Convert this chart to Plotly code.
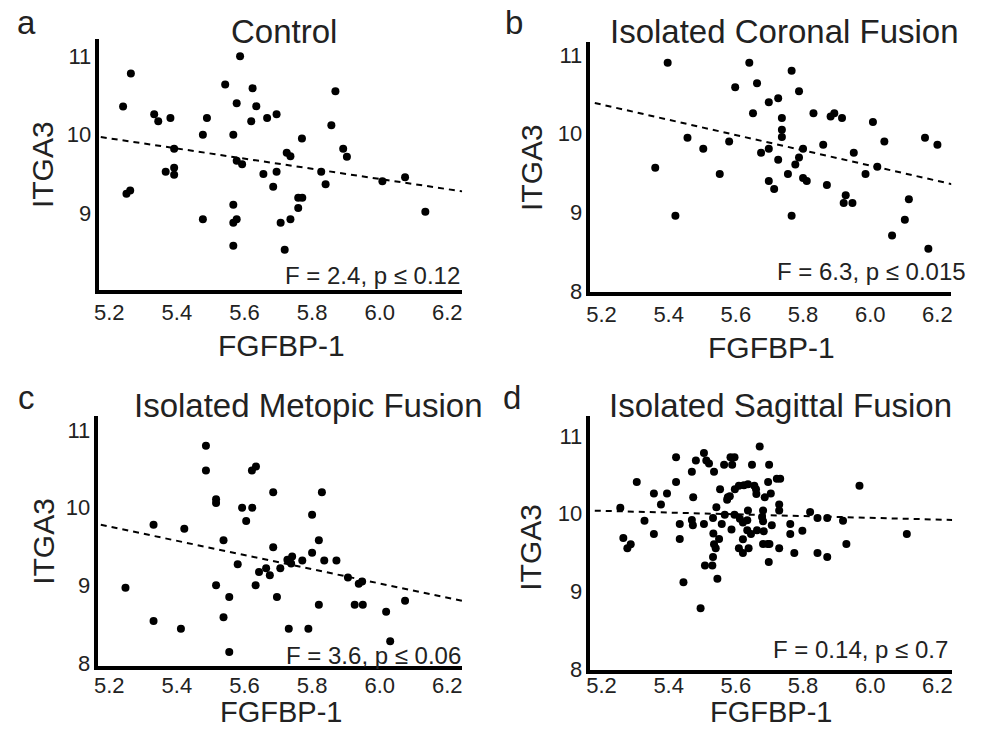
import plotly.graph_objects as go

W, H = 984, 740

# ---------------- data ----------------
control_x = [5.587, 5.264, 5.241, 5.543, 5.624, 5.577, 5.635, 5.869, 5.333, 5.345,
             5.381, 5.489, 5.620, 5.667, 5.695, 5.857, 5.477, 5.567, 5.770, 5.392,
             5.892, 5.725, 5.736, 5.903, 5.577, 5.593, 5.367, 5.392, 5.392, 5.656,
             5.695, 5.827, 5.685, 5.840, 6.008, 6.075, 5.251, 5.262, 5.759, 5.771,
             5.759, 5.477, 5.567, 5.577, 5.567, 5.707, 5.736, 6.135, 5.567, 5.719]
control_y = [10.996, 10.775, 10.358, 10.638, 10.590, 10.400, 10.360, 10.550, 10.260, 10.170,
             10.210, 10.210, 10.170, 10.210, 10.260, 10.120, 10.000, 10.000, 9.950, 9.820,
             9.820, 9.770, 9.725, 9.720, 9.670, 9.625, 9.530, 9.580, 9.490, 9.500,
             9.530, 9.530, 9.340, 9.370, 9.410, 9.460, 9.250, 9.290, 9.200, 9.200,
             9.070, 8.925, 9.110, 8.925, 8.880, 8.880, 8.925, 9.020, 8.590, 8.540]
control_fit_x = [5.175, 6.244]
control_fit_y = [9.97, 9.28]

coronal_x = [5.397, 5.640, 5.766, 5.598, 5.663, 5.788, 5.698, 5.726, 5.651, 5.737,
             5.831, 5.882, 5.893, 5.916, 6.008, 5.737, 5.737, 5.456, 5.580, 5.503,
             5.675, 5.698, 5.726, 5.800, 5.860, 6.042, 6.163, 6.200, 5.951, 5.788,
             5.777, 5.755, 5.800, 5.811, 6.021, 5.986, 5.360, 5.552, 5.698, 5.714,
             5.871, 5.927, 5.921, 5.947, 6.115, 5.420, 5.766, 6.103, 6.065, 6.173]
coronal_y = [10.90, 10.90, 10.80, 10.59, 10.64, 10.54, 10.40, 10.45, 10.26, 10.20,
             10.26, 10.22, 10.26, 10.20, 10.15, 10.05, 9.96, 9.95, 9.90, 9.81,
             9.76, 9.81, 9.67, 9.81, 9.86, 9.90, 9.95, 9.86, 9.76, 9.70,
             9.61, 9.49, 9.44, 9.40, 9.58, 9.49, 9.57, 9.49, 9.40, 9.30,
             9.35, 9.22, 9.12, 9.12, 9.17, 8.96, 8.96, 8.91, 8.71, 8.54]
coronal_fit_x = [5.180, 6.254]
coronal_fit_y = [10.39, 9.35]

metopic_x = [5.486, 5.486, 5.622, 5.634, 5.516, 5.516, 5.685, 5.829, 5.593, 5.623,
             5.605, 5.800, 5.331, 5.422, 5.538, 5.820, 5.685, 5.800, 5.727, 5.741,
             5.738, 5.771, 5.836, 5.872, 5.580, 5.664, 5.643, 5.675, 5.706, 5.906,
             5.938, 5.948, 5.248, 5.516, 5.633, 5.555, 5.696, 5.820, 5.926, 5.950,
             6.075, 6.019, 5.331, 5.538, 5.412, 5.731, 5.789, 6.031, 5.555]
metopic_y = [10.80, 10.48, 10.48, 10.53, 10.11, 10.06, 10.20, 10.20, 10.00, 10.00,
             9.83, 9.91, 9.78, 9.73, 9.58, 9.58, 9.49, 9.42, 9.33, 9.37,
             9.28, 9.32, 9.32, 9.32, 9.27, 9.22, 9.17, 9.13, 9.22, 9.10,
             9.02, 9.05, 8.97, 9.00, 9.00, 8.85, 8.85, 8.75, 8.75, 8.75,
             8.80, 8.66, 8.54, 8.59, 8.44, 8.44, 8.44, 8.28, 8.14]
metopic_fit_x = [5.175, 6.244]
metopic_fit_y = [9.78, 8.80]

sagittal_x = [5.671, 5.505, 5.422, 5.481, 5.512, 5.520, 5.565, 5.589, 5.584, 5.596,
              5.648, 5.699, 5.469, 5.535, 5.305, 5.422, 5.696, 5.722, 5.732, 5.968,
              5.553, 5.597, 5.609, 5.624, 5.636, 5.655, 5.660, 5.661, 5.356, 5.395,
              5.704, 5.686, 5.576, 5.582, 5.574, 5.473, 5.377, 5.542, 5.729, 5.729,
              5.256, 5.636, 5.681, 5.821, 5.567, 5.596, 5.328, 5.433, 5.469, 5.472,
              5.505, 5.532, 5.558, 5.612, 5.621, 5.634, 5.678, 5.681, 5.707, 5.762,
              5.843, 5.872, 5.919, 5.356, 5.587, 5.634, 5.645, 5.663, 5.683, 5.762,
              5.798, 5.533, 6.109, 5.265, 5.277, 5.287, 5.433, 5.535, 5.550, 5.621,
              5.681, 5.695, 5.700, 5.729, 5.929, 5.540, 5.609, 5.638, 5.621, 5.774,
              5.843, 5.872, 5.532, 5.530, 5.508, 5.698, 5.545, 5.444, 5.495]
sagittal_y = [10.865, 10.781, 10.726, 10.684, 10.684, 10.646, 10.629, 10.629, 10.726, 10.726,
              10.629, 10.629, 10.540, 10.540, 10.409, 10.409, 10.409, 10.451, 10.451, 10.359,
              10.316, 10.316, 10.359, 10.367, 10.380, 10.359, 10.316, 10.253, 10.262, 10.262,
              10.262, 10.211, 10.211, 10.224, 10.181, 10.211, 10.118, 10.084, 10.118, 10.042,
              10.076, 10.042, 10.042, 10.021, 9.987, 9.987, 9.911, 9.869, 9.920, 9.852,
              9.869, 9.945, 9.869, 9.937, 9.886, 9.916, 9.958, 9.903, 9.852, 9.869,
              9.945, 9.945, 9.911, 9.738, 9.797, 9.789, 9.738, 9.789, 9.776, 9.738,
              9.781, 9.747, 9.738, 9.688, 9.557, 9.608, 9.675, 9.608, 9.675, 9.671,
              9.612, 9.612, 9.612, 9.557, 9.612, 9.557, 9.557, 9.557, 9.494, 9.494,
              9.494, 9.443, 9.443, 9.333, 9.333, 9.380, 9.165, 9.118, 8.785]
sagittal_fit_x = [5.180, 6.244]
sagittal_fit_y = [10.04, 9.92]

x_ticks = [5.2, 5.4, 5.6, 5.8, 6.0, 6.2]
x_tick_text = ["5.2", "5.4", "5.6", "5.8", "6.0", "6.2"]
y_ticks = [8, 9, 10, 11]
y_tick_text = ["8", "9", "10", "11"]

panel_letters = ["a", "b", "c", "d"]
panel_titles = ["Control", "Isolated Coronal Fusion", "Isolated Metopic Fusion", "Isolated Sagittal Fusion"]
stats_text = ["F = 2.4, p \u2264 0.12", "F = 6.3, p \u2264 0.015", "F = 3.6, p \u2264 0.06", "F = 0.14, p \u2264 0.7"]
x_title = "FGFBP-1"
y_title = "ITGA3"

# ---------------- layout geometry (pixels) ----------------
# xt: (x, y, yanchor, font size) for the x-axis title; xs: x tick label standoff
panels = [
    dict(px=(95, 460), py=(40, 295), xr=[5.171, 6.244], yr=[8.025, 11.21], xs=0,
         title=(281, 32), letter=(22, 23), stat=(459, 280), xt=(278, 351, "middle", 30), yt=(38, 167)),
    dict(px=(589, 952), py=(43, 297), xr=[5.167, 6.241], yr=[7.99, 11.16], xs=0,
         title=(784, 32), letter=(512, 23), stat=(968, 276), xt=(771, 353, "middle", 30), yt=(529, 170)),
    dict(px=(94, 460), py=(423, 677), xr=[5.168, 6.244], yr=[7.96, 11.18], xs=-3,
         title=(305, 412), letter=(22, 404), stat=(460, 666), xt=(278, 741, "bottom", 29), yt=(38, 550)),
    dict(px=(589, 953), py=(423, 681), xr=[5.167, 6.244], yr=[7.99, 11.256], xs=-7,
         title=(780, 412), letter=(510, 404), stat=(950, 660), xt=(771, 741, "bottom", 29), yt=(529, 556)),
]
series = [
    (control_x, control_y, control_fit_x, control_fit_y),
    (coronal_x, coronal_y, coronal_fit_x, coronal_fit_y),
    (metopic_x, metopic_y, metopic_fit_x, metopic_fit_y),
    (sagittal_x, sagittal_y, sagittal_fit_x, sagittal_fit_y),
]

FONT = "Liberation Sans, Arial, sans-serif"

def fx(p):
    return p / W

def fy(p):
    return 1 - p / H

fig = go.Figure()
annotations = []
layout_axes = {}

for i, (pan, (sx, sy, lx, ly)) in enumerate(zip(panels, series)):
    n = "" if i == 0 else str(i + 1)
    xa, ya = "x" + n, "y" + n
    fig.add_trace(go.Scatter(x=lx, y=ly, mode="lines", xaxis=xa, yaxis=ya,
                             line=dict(color="black", width=2, dash="6px,5px"),
                             showlegend=False, hoverinfo="skip"))
    fig.add_trace(go.Scatter(x=sx, y=sy, mode="markers", xaxis=xa, yaxis=ya,
                             marker=dict(color="black", size=8),
                             showlegend=False))
    layout_axes["xaxis" + n] = dict(
        domain=[fx(pan["px"][0]), fx(pan["px"][1])], range=pan["xr"], anchor=ya,
        showline=True, linecolor="black", linewidth=3.5, showgrid=False, zeroline=False,
        tickvals=x_ticks, ticktext=x_tick_text, ticks="", ticklabelstandoff=pan["xs"],
        tickfont=dict(family=FONT, size=22, color="#222"), fixedrange=True)
    layout_axes["yaxis" + n] = dict(
        domain=[fy(pan["py"][1]), fy(pan["py"][0])], range=pan["yr"], anchor=xa,
        showline=True, linecolor="black", linewidth=3.5, showgrid=False, zeroline=False,
        tickvals=y_ticks, ticktext=y_tick_text, ticks="",
        tickfont=dict(family=FONT, size=22, color="#222"), fixedrange=True)

    common = dict(xref="paper", yref="paper", showarrow=False, borderpad=0)
    annotations.append(dict(text=panel_titles[i], x=fx(pan["title"][0]), y=fy(pan["title"][1]),
                            xanchor="center", yanchor="middle",
                            font=dict(family=FONT, size=33, color="#222"), **common))
    annotations.append(dict(text=panel_letters[i], x=fx(pan["letter"][0]), y=fy(pan["letter"][1]),
                            xanchor="center", yanchor="middle",
                            font=dict(family=FONT, size=33, color="#222"), **common))
    annotations.append(dict(text=stats_text[i], x=fx(pan["stat"][0]), y=fy(pan["stat"][1]),
                            xanchor="right", yanchor="middle",
                            font=dict(family=FONT, size=24, color="#222"), **common))
    annotations.append(dict(text=x_title, x=fx(pan["xt"][0]), y=fy(pan["xt"][1]),
                            xanchor="center", yanchor=pan["xt"][2],
                            font=dict(family=FONT, size=pan["xt"][3], color="#222"), **common))
    annotations.append(dict(text=y_title, x=fx(pan["yt"][0]), y=fy(pan["yt"][1]), textangle=-90,
                            xanchor="center", yanchor="middle",
                            font=dict(family=FONT, size=30, color="#222"), **common))

fig.update_layout(
    width=W, height=H, margin=dict(l=0, r=0, t=0, b=0),
    paper_bgcolor="white", plot_bgcolor="white",
    annotations=annotations, **layout_axes)

fig.write_html("out.html", config={"displayModeBar": False},
               post_script="document.body.style.margin='0';document.body.style.overflow='hidden';")
